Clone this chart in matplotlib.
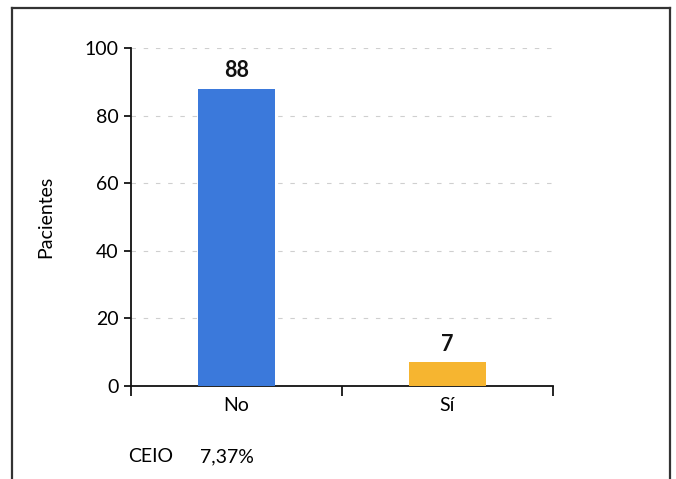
import matplotlib
matplotlib.use("Agg")
import matplotlib.pyplot as plt
from matplotlib.lines import Line2D

categorias = ["No", "Sí"]
pacientes = [88, 7]
colores = ["#3b79db", "#f6b530"]
yticks = [0, 20, 40, 60, 80, 100]

plt.rcParams["font.family"] = ["Lato", "DejaVu Sans"]

fig = plt.figure(figsize=(6.76, 4.79), dpi=100)
ax = fig.add_axes([131 / 676, 93 / 479, 422 / 676, 338 / 479])

x = range(len(categorias))
ax.bar(x, pacientes, width=0.365, color=colores, zorder=3)
for xi, v in zip(x, pacientes):
    ax.text(xi, v + 2.3, str(v), ha="center", va="bottom",
            fontsize=15.5, fontweight="bold", color="#111111")

ax.set_xlim(-0.5, 1.5)
ax.set_ylim(0, 100)
ax.set_yticks(yticks)
ax.set_yticklabels([str(t) for t in yticks], fontsize=14)
ax.set_xticks(list(x))
ax.set_xticklabels(categorias, fontsize=14)
ax.set_xticks([-0.5, 0.5, 1.5], minor=True)
ax.tick_params(axis="x", which="major", length=0, pad=8)
ax.tick_params(axis="x", which="minor", length=7, width=1.2, direction="out")
ax.tick_params(axis="y", length=5, width=1.2, direction="out", pad=4)

ax.yaxis.grid(True, color="#cfcfcf", linestyle=(0, (4, 7)), linewidth=0.8, zorder=0)
for s in ["top", "right"]:
    ax.spines[s].set_visible(False)
for s in ["left", "bottom"]:
    ax.spines[s].set_linewidth(1.3)
    ax.spines[s].set_color("#111111")

ax.set_ylabel("Pacientes", fontsize=14, labelpad=22)

fig.text(128 / 676, 1 - 457 / 479, "CEIO", fontsize=14, va="center", ha="left")
fig.text(200 / 676, 1 - 457 / 479, "7,37%", fontsize=14, va="center", ha="left")

# marco exterior (sin borde inferior)
x0, x1, y1 = 12 / 676, 670 / 676, 1 - 8 / 479
for xs, ys in [([x0, x0], [0, y1]), ([x0, x1], [y1, y1]), ([x1, x1], [y1, 0])]:
    fig.add_artist(Line2D(xs, ys, color="#333333", linewidth=1.6,
                          transform=fig.transFigure))

fig.savefig("out.png", dpi=100)
plt.close(fig)
